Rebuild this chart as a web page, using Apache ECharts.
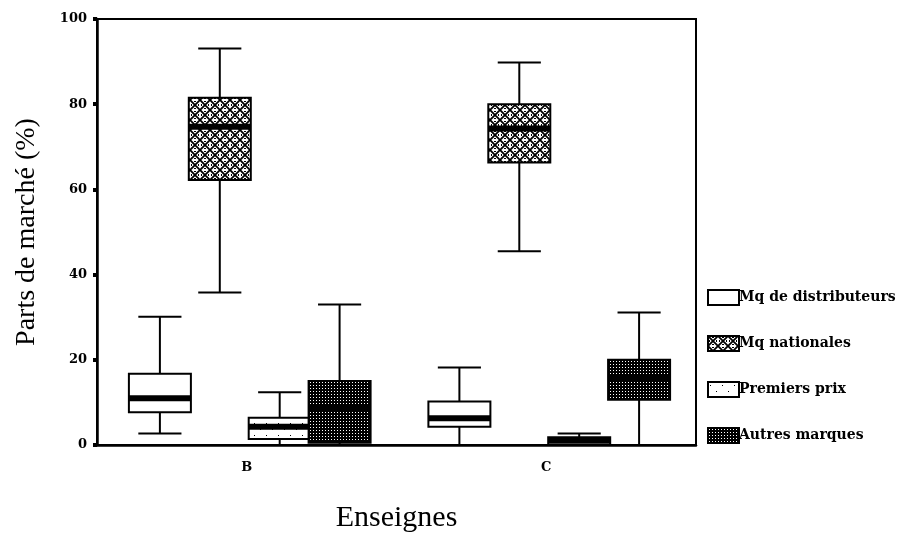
<!DOCTYPE html>
<html>
<head>
<meta charset="utf-8">
<script src="https://cdn.jsdelivr.net/npm/echarts@6/dist/echarts.min.js"></script>
<style>
  html, body { margin: 0; padding: 0; background: #fff; }
  #chart { width: 900px; height: 535px; }
</style>
</head>
<body>
<div id="chart"></div>
<script>
// categories (enseignes)
const categories = ['B', 'C'];
const seriesNames = ['Mq de distributeurs', 'Mq nationales', 'Premiers prix', 'Autres marques'];

// [min, Q1, médiane, Q3, max] pour B puis C
const distributeurs = [[2.7, 7.7, 11, 16.7, 30.1], [0, 4.3, 6.3, 10.2, 18.2]];
const nationales = [[35.8, 62.2, 74.7, 81.5, 93.1], [45.5, 66.3, 74.3, 80, 89.8]];
const premiersPrix = [[0, 1.4, 4.3, 6.4, 12.4], [0, 0, 1, 1.8, 2.7]];
const autresMarques = [[0, 0.5, 8.6, 15, 33], [0, 10.6, 15.7, 20, 31.1]];

const yTicks = [0, 20, 40, 60, 80, 100];

// petits motifs de remplissage
function tile(size, draw) {
  const c = document.createElement('canvas');
  c.width = c.height = size;
  const g = c.getContext('2d');
  draw(g, size);
  return c;
}
const patWhite = '#fff';
const patCross = { image: tile(10, (g, s) => {
  g.fillStyle = '#fff'; g.fillRect(0, 0, s, s);
  g.strokeStyle = '#000'; g.lineWidth = 1.8;
  g.beginPath(); g.moveTo(0, 0); g.lineTo(s, s); g.moveTo(s, 0); g.lineTo(0, s); g.stroke();
  g.fillStyle = '#000';
  g.fillRect(4, 1, 2, 1); g.fillRect(1, 4, 1, 2); g.fillRect(8, 4, 1, 2); g.fillRect(4, 8, 2, 1);
}), repeat: 'repeat' };
const patSparse = { image: tile(12, (g, s) => {
  g.fillStyle = '#fff'; g.fillRect(0, 0, s, s);
  g.fillStyle = '#000';
  g.fillRect(2, 3, 1, 1); g.fillRect(8, 9, 1, 1);
}), repeat: 'repeat' };
const patDark = { image: tile(3, (g, s) => {
  g.fillStyle = '#000'; g.fillRect(0, 0, s, s);
  g.fillStyle = '#fff'; g.fillRect(1, 1, 1, 1);
}), repeat: 'repeat' };
const fills = [patWhite, patCross, patSparse, patDark];

const offsets = [-0.29, -0.09, 0.11, 0.31];

function makeRender(k) {
  return function (params, api) {
    const cat = api.value(0);
    const band = api.size([1, 0])[0];
    const cx = api.coord([cat, 0])[0] + offsets[k] * band;
    const bw = band * 0.207;
    const cw = band * 0.144;
    const yv = i => api.coord([cat, api.value(i)])[1];
    const yMin = yv(1), yQ1 = yv(2), yMed = yv(3), yQ3 = yv(4), yMax = yv(5);
    const line = { stroke: '#000', lineWidth: 2 };
    return {
      type: 'group',
      children: [
        { type: 'line', shape: { x1: cx, y1: yQ3, x2: cx, y2: yMax }, style: line },
        { type: 'line', shape: { x1: cx, y1: yQ1, x2: cx, y2: yMin }, style: line },
        { type: 'line', shape: { x1: cx - cw / 2, y1: yMax, x2: cx + cw / 2, y2: yMax }, style: line },
        { type: 'line', shape: { x1: cx - cw / 2, y1: yMin, x2: cx + cw / 2, y2: yMin }, style: line },
        { type: 'rect', shape: { x: cx - bw / 2, y: yQ3, width: bw, height: yQ1 - yQ3 },
          style: { fill: fills[k], stroke: '#000', lineWidth: 2 } },
        { type: 'rect', shape: { x: cx - bw / 2, y: yMed - 3, width: bw, height: 6 },
          style: { fill: '#000' } }
      ]
    };
  };
}

const allData = [distributeurs, nationales, premiersPrix, autresMarques];
const series = allData.map((arr, k) => ({
  name: seriesNames[k],
  type: 'custom',
  renderItem: makeRender(k),
  encode: { x: 0, y: [1, 2, 3, 4, 5] },
  itemStyle: { color: fills[k], borderColor: '#000', borderWidth: 2 },
  data: arr.map((v, i) => [i].concat(v))
}));

const chart = echarts.init(document.getElementById('chart'));
chart.setOption({
  backgroundColor: '#fff',
  animation: false,
  grid: {
    left: 97, right: 204, top: 19, bottom: 90,
    outerBoundsMode: 'none',
    show: true, borderColor: '#000', borderWidth: 2
  },
  legend: {
    orient: 'vertical',
    left: 702,
    top: 284,
    itemWidth: 31,
    itemHeight: 15,
    itemGap: 29,
    selectedMode: false,
    textStyle: { fontFamily: 'DejaVu Serif', fontWeight: 'bold', fontSize: 14, color: '#000', padding: [0, 0, 0, -5] },
    data: seriesNames.map((n, k) => ({
      name: n,
      icon: 'rect',
      itemStyle: { color: fills[k], borderColor: '#000', borderWidth: 2 }
    }))
  },
  xAxis: {
    type: 'category',
    data: categories,
    name: 'Enseignes',
    nameLocation: 'middle',
    nameGap: 58,
    nameTextStyle: { fontFamily: 'Liberation Serif', fontSize: 30, color: '#000' },
    axisLine: { lineStyle: { color: '#000', width: 2.5 } },
    axisTick: { alignWithLabel: true, length: 3, lineStyle: { color: '#000', width: 6 } },
    axisLabel: { margin: 16, fontFamily: 'DejaVu Serif', fontWeight: 'bold', fontSize: 13, color: '#000' }
  },
  yAxis: {
    type: 'value',
    min: yTicks[0],
    max: yTicks[yTicks.length - 1],
    interval: 20,
    name: 'Parts de marché (%)',
    nameLocation: 'middle',
    nameGap: 56,
    nameTextStyle: { fontFamily: 'Liberation Serif', fontSize: 28, color: '#000' },
    splitLine: { show: false },
    axisLine: { show: true, lineStyle: { color: '#000', width: 2.5 } },
    axisTick: { show: true, length: 4, lineStyle: { color: '#000', width: 4 } },
    axisLabel: { margin: 10, fontFamily: 'DejaVu Serif', fontWeight: 'bold', fontSize: 13, color: '#000' }
  },
  series: series
});
</script>
</body>
</html>
